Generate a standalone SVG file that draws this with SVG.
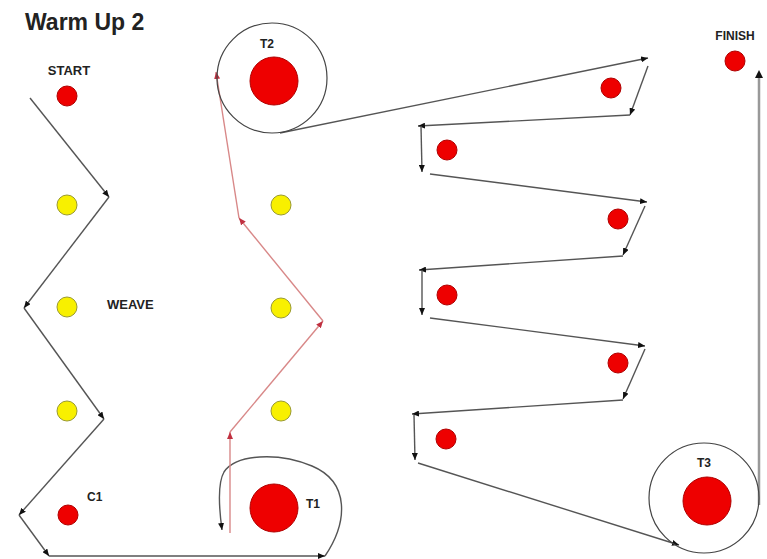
<svg xmlns="http://www.w3.org/2000/svg" width="767" height="559" viewBox="0 0 767 559">
<style>
.lbl{font-family:"Liberation Sans",Arial,sans-serif;font-weight:bold;fill:#222}
.cone{fill:#ee0000;stroke:#b00000;stroke-width:1}
.yel{fill:#f8f000;stroke:#9a9a30;stroke-width:1}
.ring{fill:none;stroke:#444;stroke-width:1.2}
.blk{fill:none;stroke:#555;stroke-width:1.4}
.red{fill:none;stroke:#d88888;stroke-width:1.4}
.gry{fill:none;stroke:#999;stroke-width:2.5}
</style>
<defs>
<marker id="ab" markerUnits="userSpaceOnUse" markerWidth="8" markerHeight="6" refX="7" refY="3" orient="auto"><path d="M0,0 L7,3 L0,6 Z" fill="#111"/></marker>
<marker id="ar" markerUnits="userSpaceOnUse" markerWidth="8" markerHeight="6" refX="7" refY="3" orient="auto"><path d="M0,0 L7,3 L0,6 Z" fill="#c03040"/></marker>
</defs>
<rect width="767" height="559" fill="#fff"/>
<text class="lbl" x="25" y="30" font-size="23">Warm Up 2</text>

<g id="connectors">
<path class="blk" d="M30,98 L109,197" marker-end="url(#ab)"/>
<path class="blk" d="M109,197 L24,308" marker-end="url(#ab)"/>
<path class="blk" d="M24,308 L104,419" marker-end="url(#ab)"/>
<path class="blk" d="M104,419 L19,515" marker-end="url(#ab)"/>
<path class="blk" d="M19,515 L49,556" marker-end="url(#ab)"/>
<path class="blk" d="M49,556 L325,556" marker-end="url(#ab)"/>
<path class="blk" d="M325,556 C348,522 350,482 312,466 C278,452 236,454 224,472 C217,484 219,508 222,530" marker-end="url(#ab)"/>
<path class="red" d="M230,533 L230,432" marker-end="url(#ar)"/>
<path class="red" d="M230,432 L323,321" marker-end="url(#ar)"/>
<path class="red" d="M323,321 L239,218" marker-end="url(#ar)"/>
<path class="red" d="M239,218 L216,72" marker-end="url(#ar)"/>
<path class="blk" d="M280,133 L648,58" marker-end="url(#ab)"/>
<path class="blk" d="M648,66 L630,115" marker-end="url(#ab)"/>
<path class="blk" d="M630,115 L418,126" marker-end="url(#ab)"/>
<path class="blk" d="M421,126 L422,172" marker-end="url(#ab)"/>
<path class="blk" d="M430,174 L647,202" marker-end="url(#ab)"/>
<path class="blk" d="M645,206 L623,255" marker-end="url(#ab)"/>
<path class="blk" d="M623,256 L419,270" marker-end="url(#ab)"/>
<path class="blk" d="M422,270 L422,315" marker-end="url(#ab)"/>
<path class="blk" d="M430,318 L645,346" marker-end="url(#ab)"/>
<path class="blk" d="M645,349 L623,399" marker-end="url(#ab)"/>
<path class="blk" d="M623,400 L412,414" marker-end="url(#ab)"/>
<path class="blk" d="M414,415 L415,460" marker-end="url(#ab)"/>
<path class="blk" d="M418,463 L679,545" marker-end="url(#ab)"/>
<path class="gry" d="M759,505 L759,73"/>
<path d="M755,78 L759,70 L763,78 Z" fill="#111"/>
</g>

<g id="start"><text class="lbl" x="69" y="75" font-size="13" text-anchor="middle">START</text><circle class="cone" cx="67" cy="96" r="10"/></g>
<g id="weave1"><circle class="yel" cx="67" cy="205" r="10"/></g>
<g id="weave2"><circle class="yel" cx="67" cy="307" r="10"/><text class="lbl" x="107" y="309" font-size="13">WEAVE</text></g>
<g id="weave3"><circle class="yel" cx="67" cy="411" r="10"/></g>
<g id="c1"><circle class="cone" cx="68" cy="515" r="10"/><text class="lbl" x="87" y="501" font-size="12">C1</text></g>

<g id="weave4"><circle class="yel" cx="281" cy="205" r="10"/></g>
<g id="weave5"><circle class="yel" cx="281" cy="308" r="10"/></g>
<g id="weave6"><circle class="yel" cx="281" cy="411" r="10"/></g>
<g id="t1"><circle class="cone" cx="274" cy="508" r="24"/><text class="lbl" x="306" y="508" font-size="12">T1</text></g>
<g id="t2"><circle class="ring" cx="272" cy="78" r="55"/><circle class="cone" cx="274" cy="81" r="24"/><text class="lbl" x="267" y="48" font-size="12" text-anchor="middle">T2</text></g>

<g id="r1"><circle class="cone" cx="611" cy="88" r="10"/></g>
<g id="r2"><circle class="cone" cx="447" cy="150" r="10"/></g>
<g id="r3"><circle class="cone" cx="618" cy="219" r="10"/></g>
<g id="r4"><circle class="cone" cx="447" cy="295" r="10"/></g>
<g id="r5"><circle class="cone" cx="618" cy="363" r="10"/></g>
<g id="r6"><circle class="cone" cx="446" cy="439" r="10"/></g>
<g id="t3"><circle class="ring" cx="704" cy="498" r="55"/><circle class="cone" cx="707" cy="501" r="24"/><text class="lbl" x="704" y="467" font-size="12" text-anchor="middle">T3</text></g>
<g id="finish"><text class="lbl" x="735" y="40" font-size="12" text-anchor="middle">FINISH</text><circle class="cone" cx="735" cy="61" r="10"/></g>
</svg>
